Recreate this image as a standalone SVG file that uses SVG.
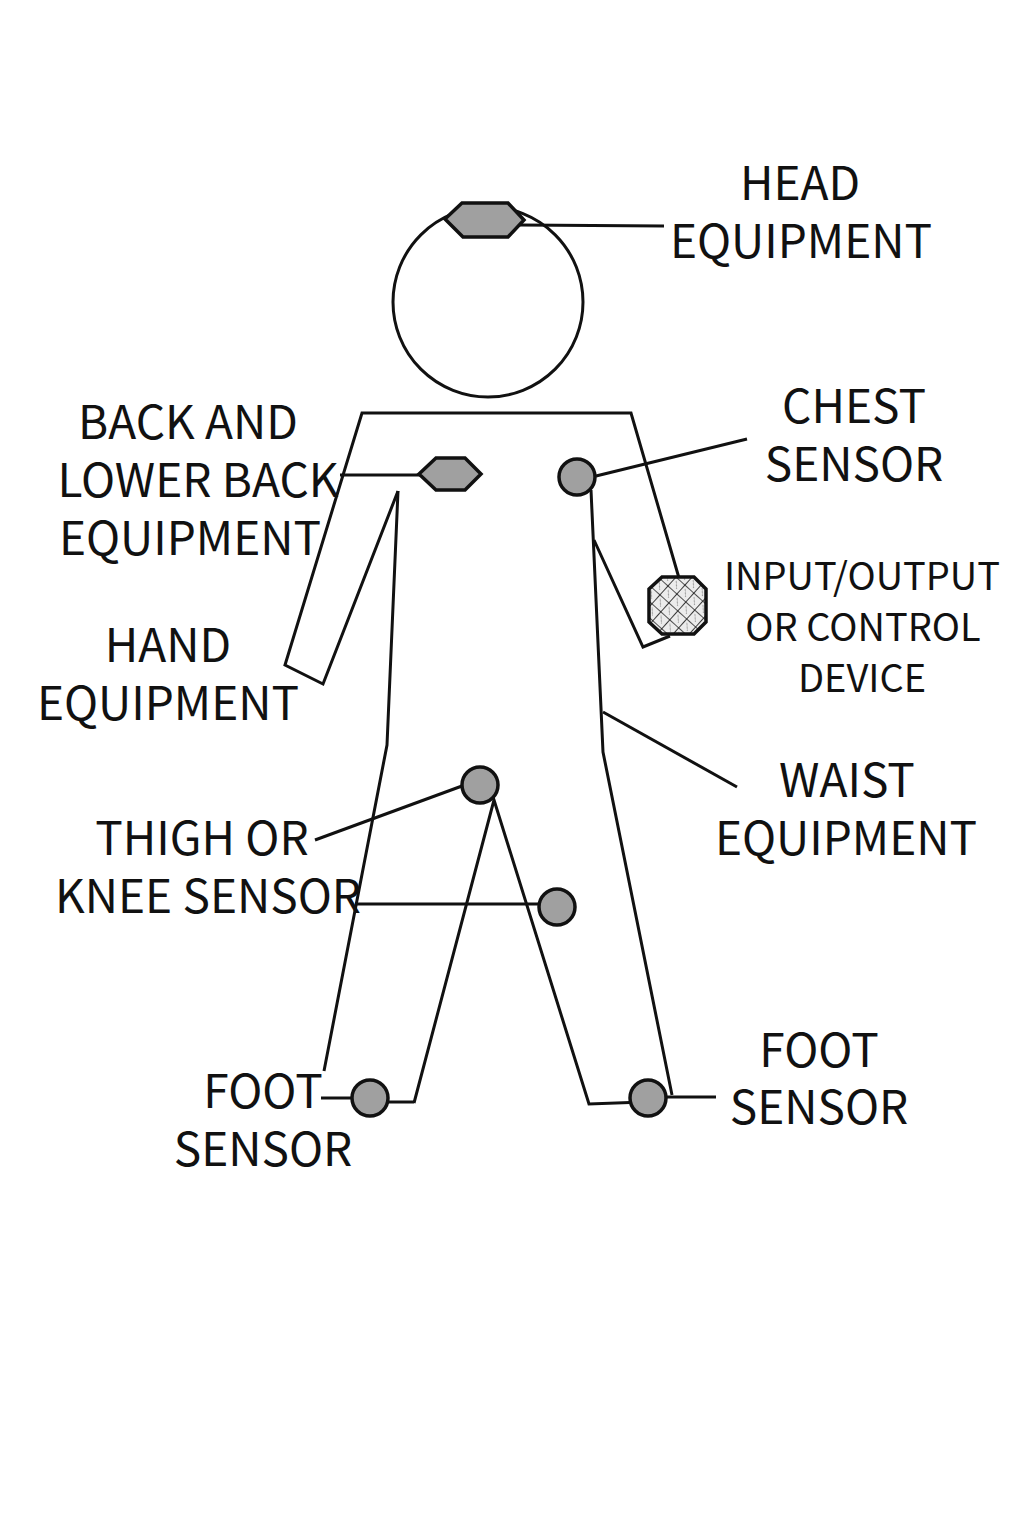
<svg xmlns="http://www.w3.org/2000/svg" width="1024" height="1536" viewBox="0 0 1024 1536">
<defs>
<pattern id="hatch" width="12" height="12" patternUnits="userSpaceOnUse" patternTransform="rotate(42)">
<rect width="12" height="12" fill="#ececec"/>
<path d="M0 0H12M0 0V12" stroke="#1a1a1a" stroke-width="1.700" fill="none"/>
<path d="M3 3L9 9" stroke="#999" stroke-width="1"/>
</pattern>
</defs>
<style>
.l{fill:none;stroke:#111;stroke-width:3;stroke-linejoin:miter}
.s{fill:#a0a0a0;stroke:#111;stroke-width:3.500}
text{font-family:"Noto Sans CJK KR","Noto Sans",sans-serif;font-size:46px;fill:#111;text-anchor:middle}
.sm{font-size:38px}
</style>
<rect width="1024" height="1536" fill="#fff"/>
<g id="body">
<circle class="l" cx="488" cy="302" r="95"/>
<path class="l" d="M398 491L323 684L285 665L362 413H631L679 578"/>
<path class="l" d="M398 491L387 745L324 1071"/>
<path class="l" d="M591 490L603 752L672 1095"/>
<path class="l" d="M594 540L643 647L670 636"/>
<path class="l" d="M414 1103L494 800L589 1104L630 1102.500"/>
<path class="l" d="M386 1102H414"/>
</g>
<g id="connectors">
<path class="l" d="M520 225L664 226"/>
<path class="l" d="M596 476L747 439"/>
<path class="l" d="M340 475H420"/>
<path class="l" d="M315 840L462 786"/>
<path class="l" d="M355 904H540"/>
<path class="l" d="M321 1098H352"/>
<path class="l" d="M665 1097H716"/>
<path class="l" d="M603 712L737 787"/>
</g>
<g id="head-equipment">
<polygon class="s" points="445,219 462,203 508,203 524,220 508,237 463,237"/>
<text x="800" y="200">HEAD</text>
<text x="801" y="258">EQUIPMENT</text>
</g>
<g id="back-equipment">
<polygon class="s" points="419,474 436,458 465,458 481,474 465,490 436,490"/>
<text x="188" y="439">BACK AND</text>
<text x="198" y="497">LOWER BACK</text>
<text x="190" y="555">EQUIPMENT</text>
</g>
<g id="chest-sensor">
<circle class="s" cx="577" cy="477" r="18"/>
<text x="854" y="423">CHEST</text>
<text x="854" y="481">SENSOR</text>
</g>
<g id="io-device">
<polygon points="662,577 694,577 706,589 706,622 694,634 662,634 649,622 649,589" fill="url(#hatch)" stroke="#111" stroke-width="3.500"/>
<text class="sm" x="862" y="590">INPUT/OUTPUT</text>
<text class="sm" x="863" y="641">OR CONTROL</text>
<text class="sm" x="862" y="692">DEVICE</text>
</g>
<g id="hand-equipment">
<text x="168" y="662">HAND</text>
<text x="168" y="720">EQUIPMENT</text>
</g>
<g id="waist-equipment">
<text x="847" y="797">WAIST</text>
<text x="846" y="855">EQUIPMENT</text>
</g>
<g id="thigh-knee-sensor">
<circle class="s" cx="480" cy="785" r="18"/>
<circle class="s" cx="557" cy="907" r="18"/>
<text x="202" y="855">THIGH OR</text>
<text x="208" y="913">KNEE SENSOR</text>
</g>
<g id="foot-sensor-left">
<circle class="s" cx="370" cy="1098" r="18"/>
<text x="263" y="1108">FOOT</text>
<text x="263" y="1166">SENSOR</text>
</g>
<g id="foot-sensor-right">
<circle class="s" cx="648" cy="1098" r="18"/>
<text x="819" y="1067">FOOT</text>
<text x="819" y="1124">SENSOR</text>
</g>
</svg>
